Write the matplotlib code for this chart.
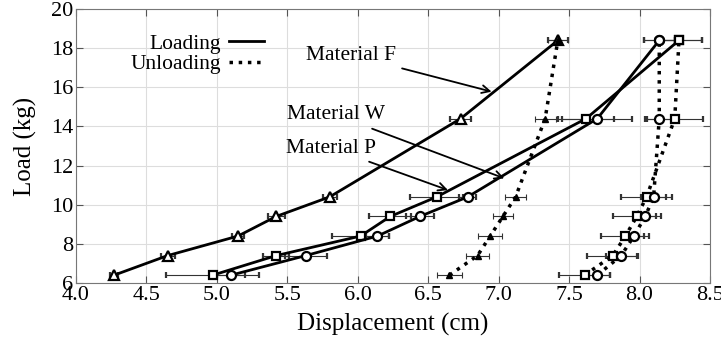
import numpy as np
import matplotlib.pyplot as plt

plt.rcParams['font.family'] = ['Liberation Serif', 'DejaVu Serif']
plt.rcParams['mathtext.fontset'] = 'stix'

# load steps (kg)
load = [6.4, 7.4, 8.4, 9.4, 10.4, 14.4, 18.4]

# Material F (triangles)
f_load = [4.27, 4.65, 5.15, 5.42, 5.80, 6.73, 7.42]
f_load_err = [0.03, 0.05, 0.04, 0.06, 0.05, 0.075, 0.07]
f_unload = [6.65, 6.85, 6.94, 7.03, 7.12, 7.33, 7.42]
f_unload_err = [0.09, 0.08, 0.085, 0.07, 0.075, 0.075, 0.07]

# Material W (squares)
w_load = [4.97, 5.42, 6.02, 6.23, 6.56, 7.62, 8.28]
w_load_err = [0.33, 0.09, 0.2, 0.15, 0.19, 0.2, 0.16]
w_unload = [7.61, 7.81, 7.90, 7.98, 8.05, 8.25, 8.28]
w_unload_err = [0.18, 0.18, 0.17, 0.17, 0.18, 0.2, 0.16]

# Material P (circles)
p_load = [5.10, 5.63, 6.14, 6.44, 6.78, 7.70, 8.14]
p_load_err = [0.1, 0.15, 0.08, 0.1, 0.06, 0.25, 0.11]
p_unload = [7.70, 7.87, 7.96, 8.04, 8.10, 8.14, 8.14]
p_unload_err = [0.09, 0.11, 0.07, 0.08, 0.09, 0.1, 0.11]

fig = plt.figure(figsize=(7.21, 3.5), dpi=100)
ax = fig.add_axes([0.1054, 0.1914, 0.8793, 0.7826])

eb = dict(ecolor='#333333', elinewidth=0.8, capsize=2.5, capthick=0.8)

# loading curves
ax.errorbar(f_load, load, xerr=f_load_err, color='black', lw=2, marker='^',
            ms=6.5, mfc='white', mew=1.6, zorder=3, **eb)
ax.errorbar(w_load, load, xerr=w_load_err, color='black', lw=2, marker='s',
            ms=5.5, mfc='white', mew=1.6, zorder=3, **eb)
ax.errorbar(p_load, load, xerr=p_load_err, color='black', lw=2, marker='o',
            ms=6.5, mfc='white', mew=1.6, zorder=3, **eb)

# unloading curves
ax.errorbar(f_unload, load, xerr=f_unload_err, color='black', lw=2.5, ls=':',
            marker='^', ms=4.5, mfc='black', zorder=3, **eb)
ax.errorbar(w_unload, load, xerr=w_unload_err, color='black', lw=2.5, ls=':',
            marker='s', ms=5.5, mfc='white', mew=1.6, zorder=3, **eb)
ax.errorbar(p_unload, load, xerr=p_unload_err, color='black', lw=2.5, ls=':',
            marker='o', ms=6.5, mfc='white', mew=1.6, zorder=3, **eb)

# legend-like entries
h1, = ax.plot([], [], color='black', lw=2)
h2, = ax.plot([], [], color='black', lw=2.5, ls=':')
ax.legend([h1, h2], ['Loading', 'Unloading'], markerfirst=False, frameon=False,
          fontsize=15.5, handlelength=1.6, handletextpad=0.4, labelspacing=0.0,
          loc='upper left', bbox_to_anchor=(0.055, 0.98))

# annotations
arrow = dict(arrowstyle='->', color='black', lw=1.3, mutation_scale=14,
             shrinkA=3, shrinkB=0)
ax.annotate('Material F', xy=(6.95, 15.78), xytext=(6.27, 17.65), fontsize=15.5,
            ha='right', va='center', arrowprops=arrow)
ax.annotate('Material W', xy=(7.04, 11.35), xytext=(6.19, 14.59), fontsize=15.5,
            ha='right', va='center', arrowprops=arrow)
ax.annotate('Material P', xy=(6.64, 10.75), xytext=(6.13, 12.9), fontsize=15.5,
            ha='right', va='center', arrowprops=arrow)

ax.set_xlim(4.0, 8.5)
ax.set_ylim(6, 20)
ax.set_xticks(np.arange(4.0, 8.51, 0.5))
ax.set_xticklabels(['%.1f' % v for v in np.arange(4.0, 8.51, 0.5)])
ax.set_yticks(np.arange(6, 20.1, 2))
ax.tick_params(direction='in', top=True, right=True, labelsize=16, length=5,
               color='#555555', pad=2)
ax.grid(True, color='#dddddd', lw=0.8)
ax.set_axisbelow(True)
for s in ax.spines.values():
    s.set_color('#777777')
ax.set_xlabel('Displacement (cm)', fontsize=18, labelpad=6)
ax.set_ylabel('Load (kg)', fontsize=18, labelpad=10)

fig.savefig('out.png', dpi=100)
